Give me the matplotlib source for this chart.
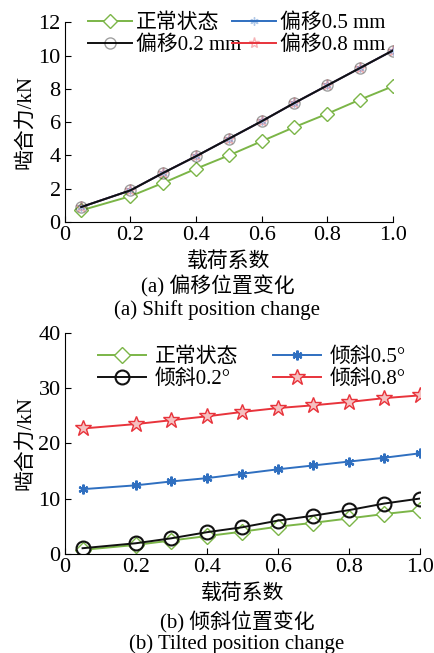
import matplotlib
matplotlib.use("Agg")
import matplotlib.pyplot as plt

plt.rcParams["font.family"] = ["Liberation Serif", "Noto Sans CJK SC"]

# --- данные ---
x = [0.05, 0.2, 0.3, 0.4, 0.5, 0.6, 0.7, 0.8, 0.9, 1.0]
xticks = [0, 0.2, 0.4, 0.6, 0.8, 1.0]
xtick_labels = ["0", "0.2", "0.4", "0.6", "0.8", "1.0"]

# (a) смещение
normal_a = [0.7, 1.55, 2.35, 3.2, 4.0, 4.85, 5.7, 6.5, 7.35, 8.15]
shift_02 = [0.9, 1.9, 2.95, 3.95, 5.0, 6.05, 7.15, 8.2, 9.25, 10.3]
shift_05 = [0.9, 1.9, 2.95, 3.95, 5.0, 6.05, 7.15, 8.2, 9.25, 10.3]
shift_08 = [0.9, 1.9, 2.95, 3.95, 5.0, 6.05, 7.15, 8.2, 9.25, 10.3]

# (b) наклон
normal_b = [0.7, 1.6, 2.4, 3.2, 4.0, 4.9, 5.6, 6.4, 7.2, 7.9]
tilt_02 = [1.0, 1.9, 2.8, 3.9, 4.8, 6.0, 6.9, 7.9, 9.1, 10.0]
tilt_05 = [11.7, 12.4, 13.1, 13.7, 14.5, 15.3, 16.0, 16.7, 17.4, 18.2]
tilt_08 = [22.7, 23.5, 24.2, 24.9, 25.7, 26.4, 26.9, 27.5, 28.2, 28.7]

GREEN, BLUE, RED, BLACK = "#7bb547", "#2f6fc0", "#e8333b", "#111111"
FS = 15

fig = plt.figure(figsize=(4.35, 6.53), dpi=100)
ax1 = fig.add_axes([0.149, 0.660, 0.754, 0.306])
ax2 = fig.add_axes([0.149, 0.152, 0.816, 0.338])

# --- (a) ---
ax1.plot(x, normal_a, "-D", color=GREEN, mfc="white", mec=GREEN, ms=7, lw=1.4, label="正常状态")
ax1.plot(x, shift_08, "-*", color=RED, mfc="none", mec="#e8333b60", ms=8, lw=1.4, label="偏移0.8 mm")
ax1.plot(x, shift_05, "-", color=BLUE, marker=(6, 2, 0), mec="#2f6fc060", ms=6, lw=1.4, label="偏移0.5 mm")
ax1.plot(x, shift_02, "-o", color=BLACK, mfc="none", mec="#00000060", ms=8, lw=1.4, label="偏移0.2 mm")
h, l = ax1.get_legend_handles_labels()
order = [0, 3, 2, 1]
ax1.legend([h[i] for i in order], [l[i] for i in order], ncol=2, frameon=False, fontsize=FS,
           loc="upper left", bbox_to_anchor=(0.04, 1.095), handlelength=2.1,
           handletextpad=0.2, columnspacing=-0.45, labelspacing=0.1, borderpad=0)
ax1.set_xlim(0, 1.0)
ax1.set_ylim(0, 12)
ax1.set_yticks(range(0, 13, 2))
ax1.set_xticks(xticks)
ax1.set_xticklabels(xtick_labels)
ax1.set_xlabel("载荷系数", fontsize=FS, labelpad=5)
ax1.set_ylabel("啮合力/kN", fontsize=FS, labelpad=2)

# --- (b) ---
ax2.plot(x, normal_b, "-D", color=GREEN, mfc="white", mec=GREEN, ms=8, lw=1.4, label="正常状态")
ax2.plot(x, tilt_02, "-o", color=BLACK, mfc="none", mec=BLACK, ms=10, mew=1.5, lw=1.4, label="倾斜0.2°")
ax2.plot(x, tilt_05, "-", color=BLUE, marker=(6, 2, 0), mec=BLUE, ms=7, mew=1.6, lw=1.4, label="倾斜0.5°")
ax2.plot(x, tilt_08, "-*", color=RED, mfc="#f5c0c0", mec=RED, ms=12, lw=1.4, label="倾斜0.8°")
ax2.legend(ncol=2, frameon=False, fontsize=FS, loc="upper left", bbox_to_anchor=(0.065, 0.98),
           handlelength=2.3, handletextpad=0.4, columnspacing=1.7, labelspacing=0.1, borderpad=0)
ax2.set_xlim(0, 1.0)
ax2.set_ylim(0, 40)
ax2.set_yticks(range(0, 41, 10))
ax2.set_xticks(xticks)
ax2.set_xticklabels(xtick_labels)
ax2.set_xlabel("载荷系数", fontsize=FS, labelpad=5)
ax2.set_ylabel("啮合力/kN", fontsize=FS, labelpad=2)

for ax in (ax1, ax2):
    for s in ("top", "right"):
        ax.spines[s].set_visible(False)
    ax.tick_params(direction="in", labelsize=16, length=4, pad=3)

fig.text(0.5, 0.561, "(a) 偏移位置变化", ha="center", va="center", fontsize=15)
fig.text(0.5, 0.525, "(a) Shift position change", ha="center", va="center", fontsize=15)
fig.text(0.545, 0.047, "(b) 倾斜位置变化", ha="center", va="center", fontsize=15)
fig.text(0.545, 0.014, "(b) Tilted position change", ha="center", va="center", fontsize=15)

fig.savefig("out.png", dpi=100)
